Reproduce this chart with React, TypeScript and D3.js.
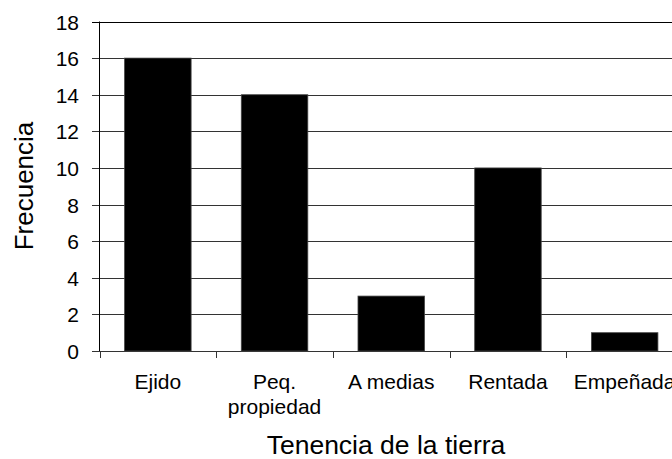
import React from "react";
import * as d3 from "d3";

const categories: string[][] = [["Ejido"], ["Peq.", "propiedad"], ["A medias"], ["Rentada"], ["Empeñada"]];
const values: number[] = [16, 14, 3, 10, 1];
const yTicks: number[] = [0, 2, 4, 6, 8, 10, 12, 14, 16, 18];

export default function App() {
  const W = 672, H = 459;
  const left = 99.5, top = 21.5, bottom = 351;
  const band = 116.7;
  const right = left + band * categories.length;
  const x = d3.scaleBand<number>().domain(d3.range(categories.length)).range([left, right]).paddingInner(0.43).paddingOuter(0.215);
  const y = d3.scaleLinear().domain([0, 18]).range([bottom, top]);
  const font = "Liberation Sans, Arial, sans-serif";
  return (
    <svg width={W} height={H} style={{ position: "absolute", left: 0, top: 0 }} fontFamily={font}>
      <rect width={W} height={H} fill="#fff" />
      {yTicks.map((t) => (
        <g key={t}>
          <line x1={92} x2={right} y1={Math.round(y(t)) + 0.5} y2={Math.round(y(t)) + 0.5} stroke={t === 18 ? "#000" : "#333"} strokeWidth={1} />
          <text x={79} y={y(t) + 8} fontSize={21} textAnchor="end" fill="#000">{t}</text>
        </g>
      ))}
      {values.map((v, i) => (
        <rect key={i} x={x(i)} y={y(v)} width={x.bandwidth()} height={bottom - y(v)} fill="#000" stroke="#444" strokeWidth={0.8} />
      ))}
      <line x1={left} x2={left} y1={top} y2={bottom} stroke="#000" />
      {d3.range(categories.length + 1).map((i) => (
        <line key={i} x1={Math.round(left + i * band) + 0.5} x2={Math.round(left + i * band) + 0.5} y1={bottom} y2={bottom + 7} stroke="#333" />
      ))}
      {categories.map((c, i) => (
        <text key={i} x={(x(i) as number) + x.bandwidth() / 2} y={388.5} fontSize={21} textAnchor="middle" fill="#000">
          {c.map((line, j) => (
            <tspan key={j} x={(x(i) as number) + x.bandwidth() / 2} dy={j === 0 ? 0 : 25}>{line}</tspan>
          ))}
        </text>
      ))}
      <text x={386} y={453.5} fontSize={26.5} textAnchor="middle" fill="#000">Tenencia de la tierra</text>
      <text transform={`translate(33,186) rotate(-90)`} fontSize={26} textAnchor="middle" fill="#000">Frecuencia</text>
    </svg>
  );
}
